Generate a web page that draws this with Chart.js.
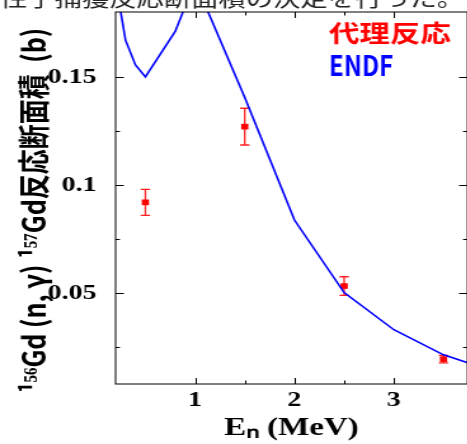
<!DOCTYPE html>
<html>
<head>
<meta charset="utf-8">
<script src="https://cdn.jsdelivr.net/npm/chart.js@4"></script>
<style>
  html, body { margin: 0; padding: 0; background: #fff; overflow: hidden; }
  /* the original figure is stretched sideways, so the whole canvas is too */
  #wrap { width: 368px; height: 444px; transform: scaleX(1.27); transform-origin: 0 0; }
</style>
</head>
<body>
<div id="wrap"><canvas id="grafico" width="368" height="444"></canvas></div>
<script>
// ENDF curve
const endfE = [0.2, 0.3, 0.4, 0.5, 0.8, 1.0, 1.5, 2.0, 2.5, 3.0, 3.5, 4.0];
const endfSigma = [0.194, 0.167, 0.1555, 0.150, 0.171, 0.194, 0.1405, 0.0838, 0.0503, 0.0331, 0.0215, 0.0139];

// surrogate reaction points (代理反応)
const dairiE = [0.5, 1.5, 2.5, 3.5];
const dairiSigma = [0.092, 0.127, 0.0533, 0.0195];
const dairiErr = [0.006, 0.0085, 0.0043, 0.0017];

const xTickLabels = ['1', '2', '3'];
const yTickLabels = ['0.05', '0.1', '0.15'];

const legendNames = ['代理反応', 'ENDF'];
const legendColors = ['#ff0000', '#0000ff'];

const topText = '中性子捕獲反応断面積の決定を行った。';

const canvas = document.getElementById('grafico');
const ctx = canvas.getContext('2d');

function isStep(v, step) {
  const r = v / step;
  return Math.abs(r - Math.round(r)) < 1e-6;
}

const extras = {
  id: 'extras',
  beforeDraw(chart) {
    const c = chart.ctx;
    c.save();
    c.fillStyle = '#fff';
    c.fillRect(0, 0, chart.width, chart.height);
    c.fillStyle = '#222';
    c.font = '21.5px "Noto Sans CJK JP"';
    c.textBaseline = 'alphabetic';
    c.textAlign = 'left';
    c.fillText(topText, -21.5, 6);
    c.restore();
  },
  beforeDatasetsDraw(chart) {
    const c = chart.ctx;
    const x = chart.scales.x, y = chart.scales.y;
    c.save();
    c.strokeStyle = '#ff2020';
    c.lineWidth = 1.3;
    dairiE.forEach((e, i) => {
      const px = x.getPixelForValue(e);
      const top = y.getPixelForValue(dairiSigma[i] + dairiErr[i]);
      const bot = y.getPixelForValue(dairiSigma[i] - dairiErr[i]);
      c.beginPath();
      c.moveTo(px, top); c.lineTo(px, bot);
      c.moveTo(px - 3.7, top); c.lineTo(px + 3.7, top);
      c.moveTo(px - 3.7, bot); c.lineTo(px + 3.7, bot);
      c.stroke();
    });
    c.restore();
  },
  afterDraw(chart) {
    const c = chart.ctx;
    const a = chart.chartArea;
    const x = chart.scales.x, y = chart.scales.y;
    c.save();
    c.strokeStyle = '#000';
    c.lineWidth = 1;
    c.strokeRect(a.left, a.top, a.right - a.left, a.bottom - a.top);
    c.beginPath();
    x.ticks.forEach(t => {
      if (!isStep(t.value, 0.5)) return;
      const px = Math.round(x.getPixelForValue(t.value)) + 0.5;
      const len = isStep(t.value, 1) ? 6 : 3.5;
      c.moveTo(px, a.bottom); c.lineTo(px, a.bottom - len);
      c.moveTo(px, a.top); c.lineTo(px, a.top + len);
    });
    y.ticks.forEach(t => {
      if (!isStep(t.value, 0.025)) return;
      const py = Math.round(y.getPixelForValue(t.value)) + 0.5;
      const len = isStep(t.value, 0.05) ? 6.5 : 3.4;
      c.moveTo(a.left, py); c.lineTo(a.left + len, py);
      c.moveTo(a.right, py); c.lineTo(a.right - len, py);
    });
    c.stroke();

    // legend: coloured text only
    c.textBaseline = 'middle';
    c.textAlign = 'left';
    c.fillStyle = legendColors[0];
    c.font = 'bold 24px "Noto Sans CJK JP"';
    c.fillText(legendNames[0], 259, 33);
    c.fillStyle = legendColors[1];
    c.font = 'bold 28px "Noto Sans CJK JP"';
    c.translate(259, 65);
    c.scale(0.68, 1);
    c.fillText(legendNames[1], 0, 0);
    c.restore();
  }
};

const chart = new Chart(ctx, {
  type: 'line',
  data: {
    datasets: [{
      label: legendNames[1],
      data: endfE.map((e, i) => ({ x: e, y: endfSigma[i] })),
      borderColor: legendColors[1],
      borderWidth: 1.6,
      pointRadius: 0,
      tension: 0,
      fill: false
    }, {
      type: 'scatter',
      label: legendNames[0],
      data: dairiE.map((e, i) => ({ x: e, y: dairiSigma[i] })),
      pointStyle: 'rect',
      pointRadius: 4,
      backgroundColor: '#ff0000',
      borderColor: '#ff0000',
      borderWidth: 0,
      showLine: false
    }]
  },
  options: {
    responsive: false,
    animation: false,
    layout: { autoPadding: false, padding: { top: 12, right: 0, left: 0, bottom: 0 } },
    plugins: {
      legend: { display: false },
      tooltip: { enabled: false }
    },
    scales: {
      x: {
        type: 'linear',
        min: 0.2,
        max: 3.74,
        grid: { display: false },
        border: { display: false },
        ticks: {
          stepSize: 0.5,
          autoSkip: false,
          maxRotation: 0,
          padding: 0,
          color: '#000',
          font: { family: 'Liberation Serif', weight: 'bold', size: 22, lineHeight: 0.8 },
          callback: v => xTickLabels.find(l => Math.abs(parseFloat(l) - v) < 1e-6) || ''
        },
        title: {
          display: true,
          text: 'Eₙ (MeV)',
          color: '#000',
          font: { family: 'Liberation Serif', weight: 'bold', size: 26 },
          padding: { top: 0, bottom: 0 }
        },
        afterFit(s) {
          s.height = 60;
          s.paddingLeft = 0;
          s.paddingRight = 0;
        }
      },
      y: {
        min: 0.008,
        max: 0.18,
        grid: { display: false },
        border: { display: false },
        ticks: {
          stepSize: 0.025,
          autoSkip: false,
          padding: 7,
          color: '#000',
          font: { family: 'Liberation Serif', weight: 'bold', size: 22 },
          callback: v => yTickLabels.find(l => Math.abs(parseFloat(l) - v) < 1e-6) || ''
        },
        title: {
          display: true,
          text: '¹⁵⁶Gd (n, γ) ¹⁵⁷Gd反応断面積  (b)\u2002\u2002',
          color: '#000',
          font: { family: '"Noto Sans CJK JP"', weight: 'bold', size: 25 },
          padding: { top: 11, bottom: 0 }
        },
        afterFit(s) {
          s.width = 91;
          s.paddingTop = 0;
          s.paddingBottom = 0;
        }
      }
    }
  },
  plugins: [extras]
});
</script>
</body>
</html>
